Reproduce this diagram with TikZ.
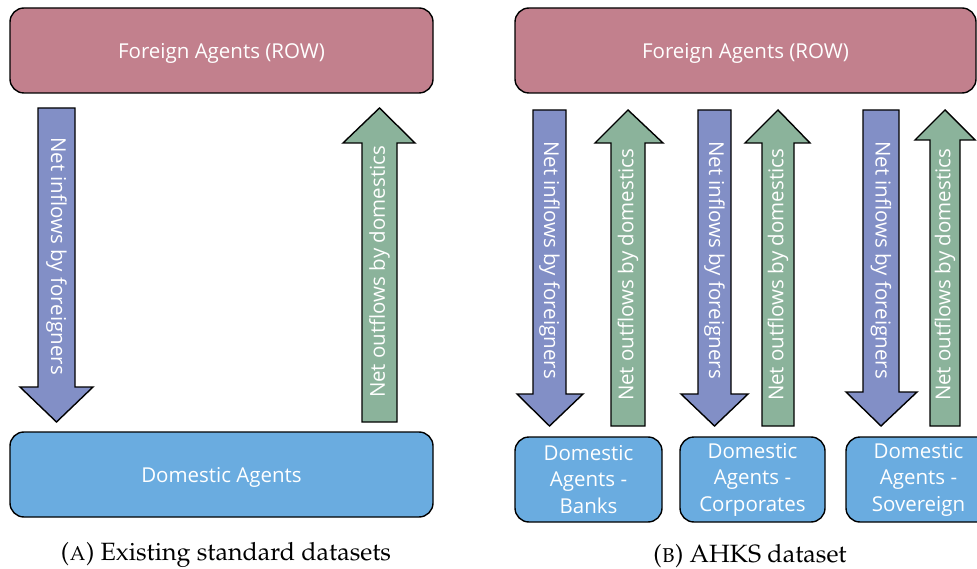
\documentclass[tikz,border=0pt]{standalone}
\usepackage[T1]{fontenc}
\usepackage{fontspec}
\setsansfont{Open Sans}
\definecolor{pinkbox}{RGB}{194,128,141}
\definecolor{bluebox}{RGB}{106,172,224}
\definecolor{bluearrow}{RGB}{130,143,198}
\definecolor{greenarrow}{RGB}{139,179,155}
\newcommand{\capfont}{\fontencoding{T1}\fontfamily{ppl}\fontsize{25}{30}\selectfont}
\tikzset{
  agentbox/.style={draw=black, line width=1.4pt, rounded corners=14pt, text=white,
    font=\sffamily\fontsize{20.5}{26.5}\selectfont, inner sep=0pt, align=center},
  forbox/.style={agentbox, fill=pinkbox, text depth=0pt},
  dombox/.style={agentbox, fill=bluebox},
  inarrow/.style={draw=black, line width=1.4pt, line join=miter, fill=bluearrow},
  outarrow/.style={draw=black, line width=1.4pt, line join=miter, fill=greenarrow},
  arrowtext/.style={text=white, font=\sffamily\fontsize{20.5}{24}\selectfont, inner sep=0pt},
  captext/.style={font=\capfont, inner sep=0pt}
}
\begin{document}
\begin{tikzpicture}[x=1pt,y=-1pt]
\useasboundingbox (0,0) rectangle (977,569);
\begin{scope}
\clip (0,0) rectangle (977,569);
% ---------- Panel A ----------
\node[forbox, minimum width=423pt, minimum height=85pt] (forA) at (221.5,50.5) {Foreign Agents (ROW)};
\node[dombox, text depth=0pt, minimum width=423pt, minimum height=85pt] (domA) at (221.5,474.5) {Domestic Agents};
\draw[inarrow] (38,108) -- (75,108) -- (75,387) -- (93,387) -- (56.5,422) -- (20,387) -- (38,387) -- cycle;
\node[arrowtext, rotate=-90] (inA) at (56.5,256) {Net inflows by foreigners};
\draw[outarrow] (362,422) -- (397,422) -- (397,143) -- (415,143) -- (379.5,108) -- (343,143) -- (362,143) -- cycle;
\node[arrowtext, rotate=90] (outA) at (379.5,272) {Net outflows by domestics};
\node[captext] (capA) at (226,555) {(\textsc{a}) Existing standard datasets};
% ---------- Panel B ----------
\node[forbox, minimum width=461pt, minimum height=85pt] (forB) at (745.5,50.5) {Foreign Agents (ROW)};
\node[dombox, minimum width=147pt, minimum height=85pt] (domB1) at (588.5,479.5) {Domestic\\Agents -\\Banks};
\node[dombox, minimum width=145pt, minimum height=85pt] (domB2) at (752.5,479.5) {Domestic\\Agents -\\Corporates};
\node[dombox, minimum width=145pt, minimum height=85pt] (domB3) at (918.5,479.5) {Domestic\\Agents -\\Sovereign};
% banks
\draw[inarrow] (533,110) -- (566,110) -- (566,394) -- (583,394) -- (549.5,426) -- (517,394) -- (533,394) -- cycle;
\node[arrowtext, rotate=-90] (inB1) at (549.5,260) {Net inflows by foreigners};
\draw[outarrow] (611,426) -- (645,426) -- (645,143) -- (663,143) -- (628,110) -- (595,143) -- (611,143) -- cycle;
\node[arrowtext, rotate=90] (outB1) at (628,275) {Net outflows by domestics};
% corporates
\draw[inarrow] (698,110) -- (731,110) -- (731,394) -- (748,394) -- (714.5,426) -- (681,394) -- (698,394) -- cycle;
\node[arrowtext, rotate=-90] (inB2) at (714.5,260) {Net inflows by foreigners};
\draw[outarrow] (762,426) -- (794,426) -- (794,143) -- (810,143) -- (778,110) -- (745,143) -- (762,143) -- cycle;
\node[arrowtext, rotate=90] (outB2) at (778,275) {Net outflows by domestics};
% sovereign
\draw[inarrow] (863,110) -- (899,110) -- (899,392) -- (917,392) -- (881,426) -- (846,392) -- (863,392) -- cycle;
\node[arrowtext, rotate=-90] (inB3) at (881,260) {Net inflows by foreigners};
\draw[outarrow] (930,426) -- (960,426) -- (960,140) -- (975,140) -- (945,110) -- (915,140) -- (930,140) -- cycle;
\node[arrowtext, rotate=90] (outB3) at (945,275) {Net outflows by domestics};
\node[captext] (capB) at (750,556) {(\textsc{b}) AHKS dataset};
\end{scope}
\end{tikzpicture}
\end{document}
